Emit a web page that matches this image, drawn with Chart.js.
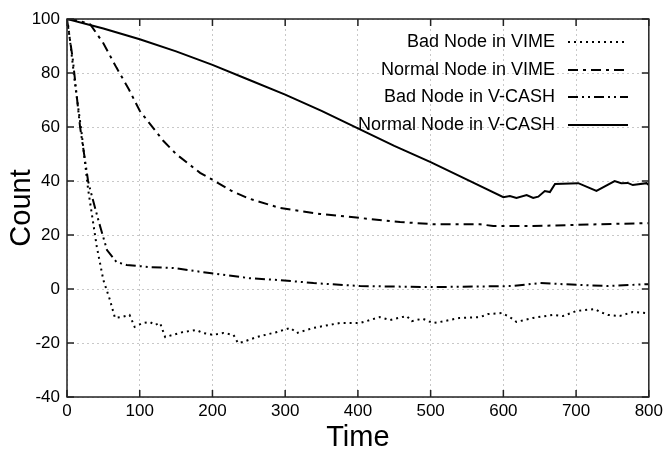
<!DOCTYPE html>
<html>
<head>
    <title>Count over Time</title>
    <script src="https://cdn.jsdelivr.net/npm/chart.js"></script>
    <style>
        body { margin: 0; background: #fff; }
    </style>
</head>
<body>
    <canvas id="count_chart" width="667" height="450"></canvas>
    <script>
        // values
        const badVimeT = [0, 2, 11, 20, 29, 34, 41, 50, 59, 66, 75, 86, 93, 104, 114, 121, 128, 135, 160, 178, 187, 201, 215, 229, 235, 242, 261, 289, 307, 316, 339, 375, 403, 430, 444, 467, 474, 489, 503, 513, 540, 568, 579, 598, 609, 618, 641, 668, 682, 701, 726, 733, 744, 760, 778, 797, 800];
        const badVimeY = [100, 97, 76, 58, 37, 28, 15.6, 3.3, -4, -10.7, -10.4, -9.6, -14, -12.6, -12.2, -13.3, -12.6, -17.8, -15.9, -15.2, -16.3, -17, -16.3, -17, -20, -19.6, -17.8, -15.9, -14.4, -16.3, -14.4, -12.6, -12.6, -10.4, -11.5, -10, -11.9, -11, -12.6, -12.2, -10.7, -10.4, -9.3, -8.9, -10.4, -12.2, -10.7, -9.6, -10, -8.1, -7.4, -8.5, -9.6, -10, -8.5, -8.9, -9];

        const normalVimeT = [0, 15, 32, 50, 68, 85, 100, 132, 150, 183, 200, 225, 250, 293, 348, 403, 458, 503, 568, 586, 641, 696, 733, 800];
        const normalVimeY = [100, 99.5, 98, 91, 82, 74, 66, 55, 50, 43, 40.5, 36.5, 33.5, 30, 27.8, 26.3, 24.8, 24, 24, 23.3, 23.3, 23.7, 24, 24.4];

        const badCashT = [0, 8, 18, 29, 32, 43, 55, 68, 82, 114, 146, 196, 251, 293, 339, 403, 503, 613, 650, 705, 742, 800];
        const badCashY = [100, 85, 60, 40, 36.7, 25.6, 14.4, 10, 8.9, 8.1, 7.8, 5.9, 4, 3.3, 2.2, 1.1, 0.7, 1.1, 2.2, 1.5, 1.1, 1.8];

        const normalCashT = [0, 50, 100, 150, 200, 250, 300, 350, 400, 450, 500, 550, 600, 609, 618, 632, 641, 648, 657, 664, 671, 703, 728, 753, 762, 771, 778, 797, 800];
        const normalCashY = [100, 96.5, 92.5, 88, 83, 77.5, 72, 66, 59.5, 53, 47, 40.5, 34, 34.4, 33.7, 34.8, 33.7, 34.2, 36.3, 35.9, 38.9, 39.2, 36.3, 40, 39.2, 39.3, 38.5, 39.2, 38.5];

        const seriesNames = ["Bad Node in VIME", "Normal Node in VIME", "Bad Node in V-CASH", "Normal Node in V-CASH"];
        const timeTicks = [0, 100, 200, 300, 400, 500, 600, 700, 800];
        const countTicks = [-40, -20, 0, 20, 40, 60, 80, 100];

        const dashes = [[2, 4], [10, 5, 3, 5], [10, 4, 2, 4, 2, 4], []];
        const FONT = "'Liberation Sans', Arial, sans-serif";

        function toPoints(ts, ys) {
            return ts.map((t, i) => ({ x: t, y: ys[i] }));
        }

        function makeSet(i, ts, ys) {
            return {
                label: seriesNames[i],
                data: toPoints(ts, ys),
                borderColor: "#000",
                borderWidth: 2,
                borderDash: dashes[i],
                pointRadius: 0,
                tension: 0,
                fill: false
            };
        }

        // gnuplot style frame, inward ticks, and legend with text left of the sample
        const framePlugin = {
            id: "frame",
            afterDraw(chart) {
                const ctx = chart.ctx;
                const a = chart.chartArea;
                const xs = chart.scales.x, ys = chart.scales.y;
                ctx.save();
                ctx.strokeStyle = "#222";
                ctx.lineWidth = 1.5;
                ctx.setLineDash([]);
                ctx.strokeRect(a.left, a.top, a.right - a.left, a.bottom - a.top);
                ctx.beginPath();
                timeTicks.forEach(v => {
                    const px = xs.getPixelForValue(v);
                    ctx.moveTo(px, a.bottom); ctx.lineTo(px, a.bottom - 7);
                    ctx.moveTo(px, a.top); ctx.lineTo(px, a.top + 7);
                });
                countTicks.forEach(v => {
                    const py = ys.getPixelForValue(v);
                    ctx.moveTo(a.left, py); ctx.lineTo(a.left + 7, py);
                    ctx.moveTo(a.right, py); ctx.lineTo(a.right - 7, py);
                });
                ctx.stroke();

                // legend
                ctx.font = "18px " + FONT;
                ctx.fillStyle = "#000";
                ctx.textAlign = "right";
                ctx.textBaseline = "middle";
                ctx.strokeStyle = "#000";
                ctx.lineWidth = 2;
                const rows = [42, 70, 97, 125];
                seriesNames.forEach((name, i) => {
                    ctx.fillText(name, 555, rows[i]);
                    ctx.setLineDash(dashes[i]);
                    ctx.beginPath();
                    ctx.moveTo(568, rows[i]);
                    ctx.lineTo(628, rows[i]);
                    ctx.stroke();
                });
                ctx.restore();
            }
        };

        const ctx = document.getElementById("count_chart");
        new Chart(ctx, {
            type: "line",
            data: {
                datasets: [
                    makeSet(0, badVimeT, badVimeY),
                    makeSet(1, normalVimeT, normalVimeY),
                    makeSet(2, badCashT, badCashY),
                    makeSet(3, normalCashT, normalCashY)
                ]
            },
            options: {
                responsive: false,
                animation: false,
                layout: { padding: { top: 19, right: 18, left: 0, bottom: 0 } },
                plugins: {
                    legend: { display: false },
                    tooltip: { enabled: false }
                },
                scales: {
                    x: {
                        type: "linear",
                        min: 0,
                        max: 800,
                        afterFit: s => { s.height = 53; },
                        afterBuildTicks: s => { s.ticks = timeTicks.map(v => ({ value: v })); },
                        ticks: { color: "#000", padding: 4, font: { family: FONT, size: 17 }, maxRotation: 0 },
                        grid: { color: "#c8c8c8", drawTicks: false },
                        border: { display: false, dash: [2, 3] },
                        title: { display: true, text: "Time", color: "#000", padding: 0, font: { family: FONT, size: 29, lineHeight: 0.85 } }
                    },
                    y: {
                        min: -40,
                        max: 100,
                        afterFit: s => { s.width = 67; },
                        afterBuildTicks: s => { s.ticks = countTicks.map(v => ({ value: v })); },
                        ticks: { color: "#000", padding: 7, font: { family: FONT, size: 17 } },
                        grid: { color: "#c8c8c8", drawTicks: false },
                        border: { display: false, dash: [2, 3] },
                        title: { display: true, text: "Count", color: "#000", padding: { top: 5, bottom: 0 }, font: { family: FONT, size: 29 } }
                    }
                }
            },
            plugins: [framePlugin]
        });
    </script>
</body>
</html>
